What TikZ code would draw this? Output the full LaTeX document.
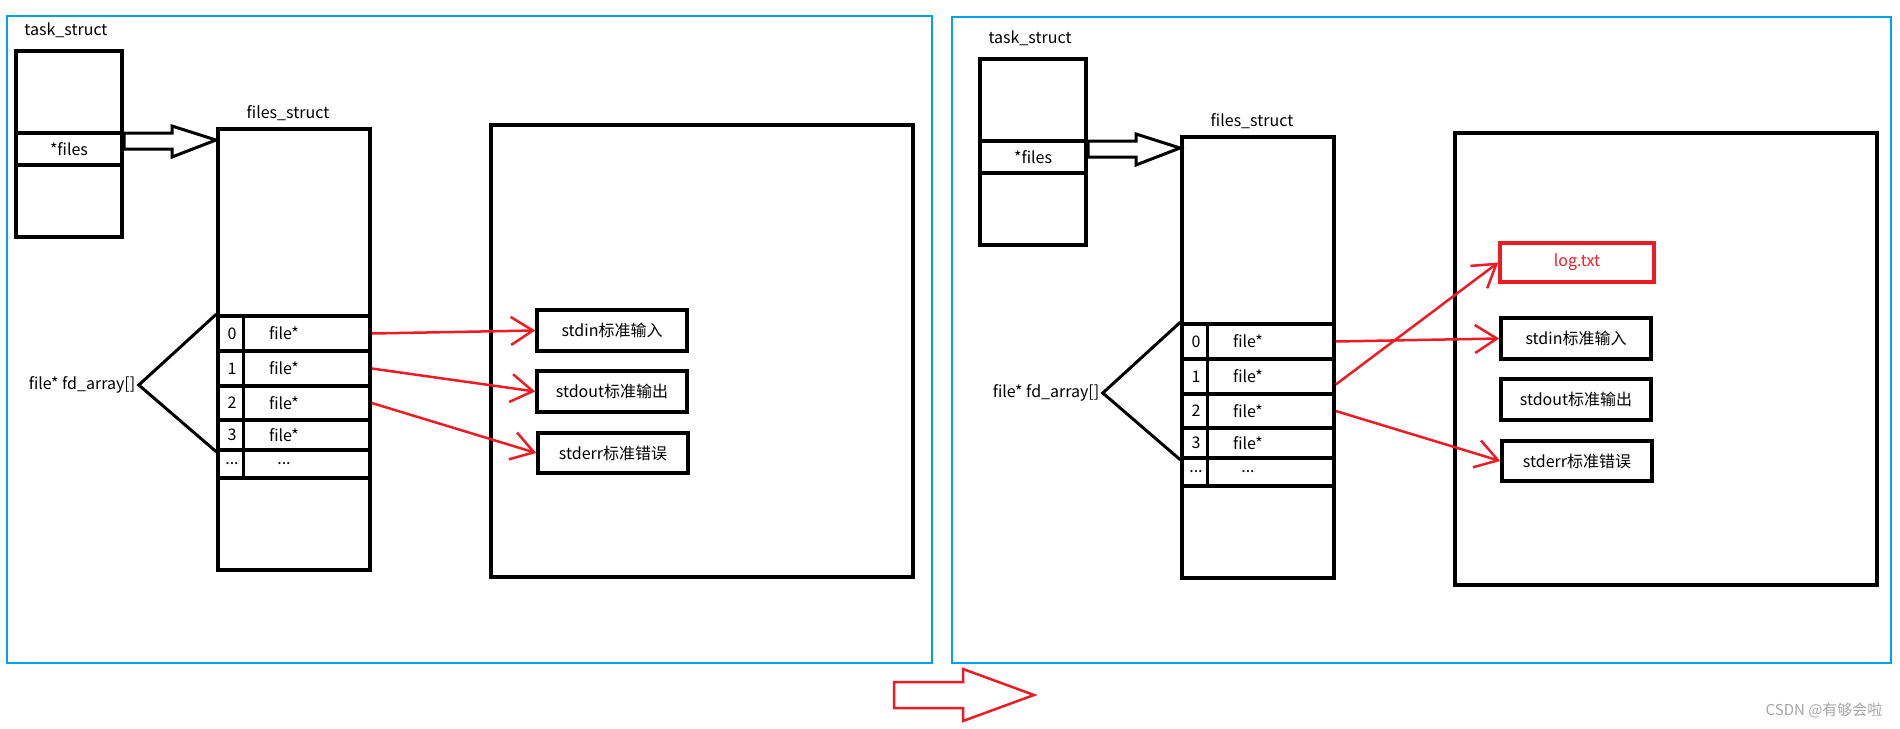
\documentclass[tikz,border=0pt]{standalone}
\usepackage{fontspec}
\setmainfont{Noto Sans CJK SC}
\usepackage{xcolor}
\usetikzlibrary{arrows.meta,calc}

\definecolor{paintblue}{RGB}{0,162,232}
\definecolor{paintred}{RGB}{237,28,36}
\newcommand{\threedots}{...}

\tikzset{
  box/.style={draw, line width=4pt, inner sep=0pt, minimum width=106pt},
  cell/.style={draw, line width=3.5pt, inner sep=0pt, minimum width=152pt},
  fdbox/.style={draw, line width=3.5pt, inner sep=0pt, minimum width=150pt, minimum height=40pt},
  ptr/.style={draw=paintred, line width=2.5pt, -{Straight Barb[length=22pt,width=28pt]}},
  hollow/.style={draw, line width=3pt, fill=white, line join=miter},
  frame/.style={draw=paintblue, line width=2.5pt},
}

\begin{document}
\begin{tikzpicture}[x=1pt,y=-1pt,font=\fontsize{16pt}{19pt}\selectfont]
\useasboundingbox (0,0) rectangle (1900,728);
% the two panels
\draw[frame] (7,16) rectangle (932,663);
\draw[frame] (952,17) rectangle (1891,663);

\foreach \p/\dx/\dy in {L/0/0, R/964/8}{
\begin{scope}[shift={(\dx,\dy)}, name prefix=\p-]
  % task_struct
  \node (tsl) at (66,30) {task\_struct};
  \node[box, minimum height=82pt] (ts1) at (69,92) {};
  \node[box, minimum height=32pt] (tsf) at (69,149) {*files};
  \node[box, minimum height=72pt] (ts2) at (69,201) {};
  % files_struct
  \node (fsl) at (288,113) {files\_struct};
  \node[cell, line width=4pt, minimum height=441pt] (fs) at (294,349.5) {};
  \foreach \i/\yc/\h/\n/\t in {0/333.5/35/0/file*, 1/368.5/35/1/file*, 2/403/34/2/file*, 3/435/30/3/file*, 4/464/28/\threedots/\threedots}{
    \node[cell, minimum height=\h pt] (fd\i) at (294,\yc) {};
    \node (idx\i) at (232,\yc) {\n};
    \node (ptr\i) at (284,\yc) {\t};
  }
  \draw[line width=3.5pt] ($(fd0.north west)+(27,0)$) -- ($(fd4.south west)+(27,0)$);
  \draw[hollow] ($(tsf.east)+(0,-16)$) -- ++(48,0) -- ++(0,-7)
    -- ($(fs.north west)+(0,13)$) -- ($(tsf.east)+(48,8)$) -- ($(tsf.east)+(48,0)$) -- (tsf.east) -- cycle;
  % fd_array
  \node (fda) at (82,385) {file* fd\_array[]};
  \draw[line width=3pt] (fd0.north west) -- (fda.east) -- (fd3.south west);
  % open files
  \node[box, line width=4pt, minimum width=422pt, minimum height=452pt] (mem) at (702,351) {};
  \node[fdbox, minimum height=41pt] (in) at (612,330.5) {stdin标准输入};
  \node[fdbox, minimum height=41pt] (out) at (612,391.5) {stdout标准输出};
  \node[fdbox] (err) at (613,453) {stderr标准错误};
\end{scope}}

\node[fdbox, draw=paintred, text=paintred, minimum width=154pt, minimum height=39pt] (log) at (1577,262.5) {log.txt};

\draw[ptr] (L-fd0.east) -- (L-in.west);
\draw[ptr] (L-fd1.east) -- (L-out.west);
\draw[ptr] (L-fd2.east) -- (L-err.west);

\draw[ptr] (R-fd0.east) -- (R-in.west);
\draw[ptr] ($(R-fd1.east)+(0,8)$) -- (log.west);
\draw[ptr] (R-fd2.east) -- (R-err.west);

% redirect
\draw[draw=paintred, line width=2.5pt, line join=miter] (894,682) -- (963,682) -- (963,669) -- (1034,695)
  -- (963,721) -- (963,708) -- (894,708) -- cycle;

\node[anchor=east, text=gray!70, font=\fontsize{15pt}{18pt}\selectfont] (mark) at (1886,710) {CSDN @有够会啦};
\end{tikzpicture}
\end{document}
